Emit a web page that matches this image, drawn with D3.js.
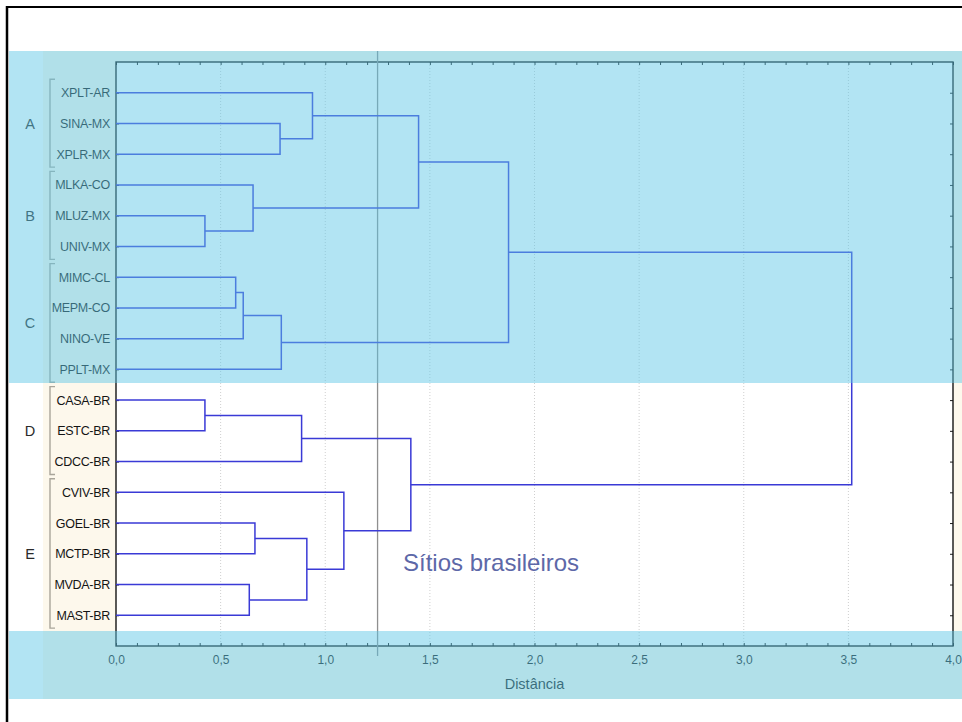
<!DOCTYPE html>
<html>
<head>
<meta charset="utf-8">
<script src="https://cdn.jsdelivr.net/npm/d3@7"></script>
<style>
  body { margin: 0; background: #ffffff; }
  svg { display: block; font-family: "Liberation Sans", Arial, sans-serif; }
</style>
</head>
<body>
<svg id="chart" width="962" height="722"></svg>
<script>
// Sites (leaves), top to bottom
const leaves = [
  "XPLT-AR", "SINA-MX", "XPLR-MX", "MLKA-CO", "MLUZ-MX", "UNIV-MX",
  "MIMC-CL", "MEPM-CO", "NINO-VE", "PPLT-MX",
  "CASA-BR", "ESTC-BR", "CDCC-BR",
  "CVIV-BR", "GOEL-BR", "MCTP-BR", "MVDA-BR", "MAST-BR"
];

// Groups: letter and first/last leaf index
const groupNames = ["A", "B", "C", "D", "E"];
const groupStart = [0, 3, 6, 10, 13];
const groupEnd   = [2, 5, 9, 12, 17];

// Agglomeration steps: indices < 18 are leaves, 18+ are earlier merges
const mergePairs = [
  [1, 2],   // 18
  [0, 18],  // 19
  [4, 5],   // 20
  [3, 20],  // 21
  [19, 21], // 22
  [6, 7],   // 23
  [23, 8],  // 24
  [24, 9],  // 25
  [22, 25], // 26
  [10, 11], // 27
  [27, 12], // 28
  [14, 15], // 29
  [16, 17], // 30
  [29, 30], // 31
  [13, 31], // 32
  [28, 32], // 33
  [26, 33]  // 34
];
const mergeHeights = [
  0.784, 0.939, 0.425, 0.655, 1.446, 0.572, 0.608, 0.790, 1.876,
  0.425, 0.887, 0.664, 0.637, 0.912, 1.089, 1.409, 3.516
];

const xMajorTicks = [0, 0.5, 1.0, 1.5, 2.0, 2.5, 3.0, 3.5, 4.0];
const xMinorTicks = [0, 0.1, 0.2, 0.3, 0.4, 0.5, 0.6, 0.7, 0.8, 0.9, 1.0,
  1.1, 1.2, 1.3, 1.4, 1.5, 1.6, 1.7, 1.8, 1.9, 2.0, 2.1, 2.2, 2.3, 2.4, 2.5,
  2.6, 2.7, 2.8, 2.9, 3.0, 3.1, 3.2, 3.3, 3.4, 3.5, 3.6, 3.7, 3.8, 3.9, 4.0];
const cutDistance = 1.25;
const axisTitle = "Distância";
const noteText = "Sítios brasileiros";

const svg = d3.select("#chart");
const plot = { left: 116, right: 953, top: 62, bottom: 646 };

const x = d3.scaleLinear().domain([0, 4]).range([plot.left, plot.right]);
const y = d3.scaleLinear().domain([0, leaves.length + 1]).range([plot.top, plot.bottom]);
const fmt = d3.formatLocale({ decimal: ",", thousands: ".", grouping: [3], currency: ["", ""] }).format(".1f");

// Graph background and plot area
svg.append("rect").attr("x", 43).attr("y", 51).attr("width", 962 - 43).attr("height", 699 - 51)
  .attr("fill", "#fdf8ec");
svg.append("rect").attr("x", plot.left).attr("y", plot.top)
  .attr("width", plot.right - plot.left).attr("height", plot.bottom - plot.top)
  .attr("fill", "#ffffff");

// Dotted vertical grid
svg.append("g").selectAll("line")
  .data(xMajorTicks.filter(d => d > 0 && d < 4))
  .join("line")
  .attr("x1", d => x(d)).attr("x2", d => x(d))
  .attr("y1", plot.top).attr("y2", plot.bottom)
  .attr("stroke", "#cfcfcf").attr("stroke-width", 1).attr("stroke-dasharray", "1,2");

// Tick marks on all four sides, pointing inward
const rowValues = leaves.map((d, i) => i + 1);
const tickStyle = g => {
  g.select(".domain").remove();
  g.selectAll(".tick line").attr("stroke", "#1a1a1a").attr("stroke-width", 1);
  g.selectAll(".tick text").remove();
};
svg.append("g").attr("transform", `translate(0,${plot.bottom})`)
  .call(d3.axisTop(x).tickValues(xMinorTicks).tickSize(3)).call(tickStyle);
svg.append("g").attr("transform", `translate(0,${plot.top})`)
  .call(d3.axisBottom(x).tickValues(xMinorTicks).tickSize(3)).call(tickStyle);
svg.append("g").attr("transform", `translate(${plot.right},0)`)
  .call(d3.axisLeft(y).tickValues(rowValues).tickSize(3)).call(tickStyle);
svg.append("g").attr("transform", `translate(${plot.left},0)`)
  .call(d3.axisRight(y).tickValues(rowValues).tickSize(3)).call(tickStyle);

// Bottom axis labels
const xAxis = svg.append("g").attr("transform", `translate(0,${plot.bottom})`)
  .call(d3.axisBottom(x).tickValues(xMajorTicks).tickSize(0).tickPadding(9).tickFormat(fmt));
xAxis.select(".domain").remove();
xAxis.selectAll(".tick text")
  .attr("font-family", "Liberation Sans, Arial, sans-serif")
  .attr("font-size", 12).attr("fill", "#1a1a1a");

svg.append("text").attr("x", (plot.left + plot.right) / 2).attr("y", 689)
  .attr("text-anchor", "middle").attr("font-size", 14.5).attr("fill", "#1a1a1a")
  .text(axisTitle);

// Plot frame
svg.append("rect").attr("x", plot.left).attr("y", plot.top)
  .attr("width", plot.right - plot.left).attr("height", plot.bottom - plot.top)
  .attr("fill", "none").attr("stroke", "#151515").attr("stroke-width", 1.4);

// Cut line
svg.append("line").attr("x1", x(cutDistance)).attr("x2", x(cutDistance))
  .attr("y1", 51).attr("y2", 656)
  .attr("stroke", "#8f8f8f").attr("stroke-width", 1.3);

// Dendrogram
const nodeY = leaves.map((d, i) => y(i + 1));
const nodeH = leaves.map(() => 0);
const links = [];
mergePairs.forEach(([a, b], i) => {
  const h = mergeHeights[i];
  links.push({ a, b, h });
  nodeY.push((nodeY[a] + nodeY[b]) / 2);
  nodeH.push(h);
});
svg.append("g").selectAll("path")
  .data(links)
  .join("path")
  .attr("d", d => `M${x(nodeH[d.a])},${nodeY[d.a]}H${x(d.h)}V${nodeY[d.b]}H${x(nodeH[d.b])}`)
  .attr("fill", "none").attr("stroke", "#3a3ad6").attr("stroke-width", 1.5);

// Leaf labels
svg.append("g").selectAll("text")
  .data(leaves)
  .join("text")
  .attr("x", 110).attr("y", (d, i) => y(i + 1))
  .attr("dy", "0.36em").attr("text-anchor", "end")
  .attr("font-size", 12.5).attr("letter-spacing", "-0.3").attr("fill", "#141414")
  .text(d => d);

// Group brackets and letters
const groups = groupNames.map((name, i) => ({ name, s: groupStart[i], e: groupEnd[i] }));
const step = y(2) - y(1);
const gG = svg.append("g").selectAll("g").data(groups).join("g");
gG.append("path")
  .attr("d", d => {
    const y0 = y(d.s + 1) - 0.44 * step, y1 = y(d.e + 1) + 0.42 * step;
    return `M55,${y0}H50V${y1}H55`;
  })
  .attr("fill", "none").attr("stroke", "#a9a59a").attr("stroke-width", 1.4);
gG.append("text")
  .attr("x", 30).attr("y", d => (y(d.s + 1) + y(d.e + 1)) / 2)
  .attr("dy", "0.36em").attr("text-anchor", "middle")
  .attr("font-size", 14.5).attr("fill", "#2a2a2a")
  .text(d => d.name);

// Translucent highlight bands
svg.append("rect").attr("x", 9).attr("y", 51).attr("width", 962 - 9).attr("height", 383 - 51)
  .attr("fill", "rgb(94,198,229)").attr("fill-opacity", 0.48);
svg.append("rect").attr("x", 9).attr("y", 631).attr("width", 962 - 9).attr("height", 699 - 631)
  .attr("fill", "rgb(94,198,229)").attr("fill-opacity", 0.48);

// Annotation
svg.append("text").attr("x", 403).attr("y", 571)
  .attr("font-size", 24).attr("fill", "#5d68a8")
  .text(noteText);

// Outer frame edges
svg.append("line").attr("x1", 7).attr("x2", 7).attr("y1", 6).attr("y2", 722)
  .attr("stroke", "#000").attr("stroke-width", 2.5);
svg.append("line").attr("x1", 6).attr("x2", 962).attr("y1", 7).attr("y2", 7)
  .attr("stroke", "#000").attr("stroke-width", 2);
</script>
</body>
</html>
